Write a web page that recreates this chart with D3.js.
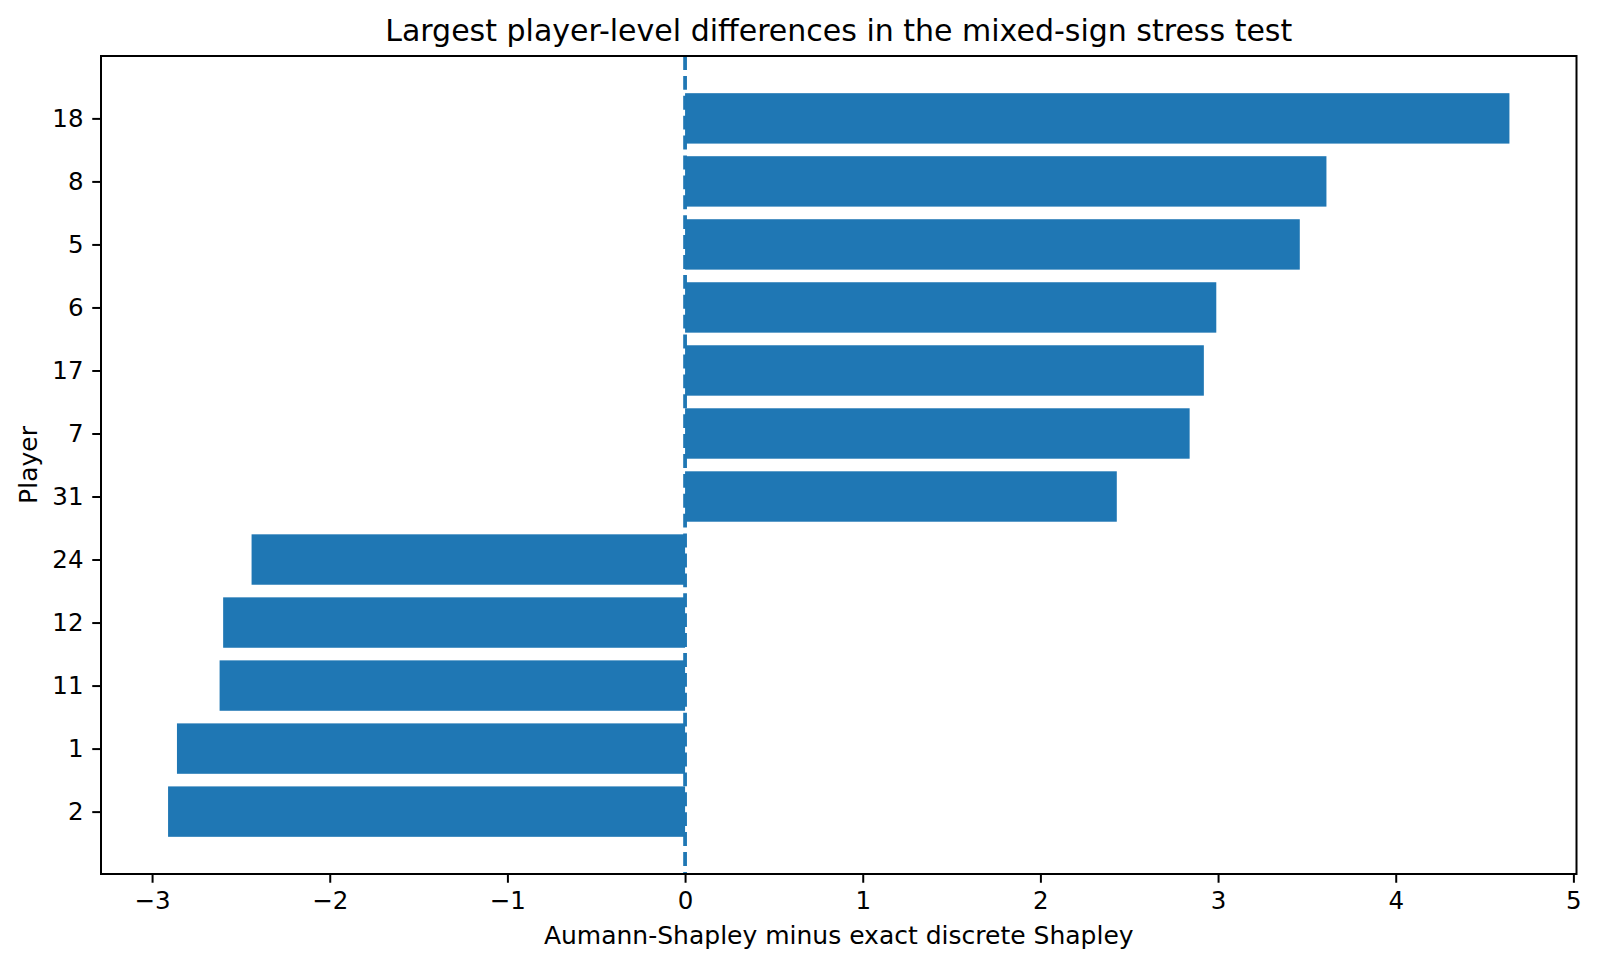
<!DOCTYPE html>
<html>
<head>
<meta charset="utf-8">
<script src="https://cdn.jsdelivr.net/npm/d3@7"></script>
<style>
	body { margin: 0; background: #fff; }
	text { font-family: "DejaVu Sans", sans-serif; fill: #000; }
</style>
</head>
<body>
<script>
// players from bottom to top, as matplotlib barh draws them
const players = ["2", "1", "11", "12", "24", "31", "7", "17", "6", "5", "8", "18"];
const differences = [-2.91, -2.86, -2.62, -2.60, -2.44, 2.43, 2.84, 2.92, 2.99, 3.46, 3.61, 4.64];
const xTicks = [-3, -2, -1, 0, 1, 2, 3, 4, 5];

const chartTitle = "Largest player-level differences in the mixed-sign stress test";
const xLabel = "Aumann-Shapley minus exact discrete Shapley";
const yLabel = "Player";

document.addEventListener("DOMContentLoaded", function(event) {
	createBarChart(967, 1600);
});

/**
 * draw the horizontal bar chart into the body
 *
 * @param h, height of the svg
 * @param w, width of the svg
 */
function createBarChart(h, w) {
	const margin = {top: 56, right: 23.5, bottom: 93, left: 101};
	const innerW = w - margin.left - margin.right;
	const innerH = h - margin.top - margin.bottom;
	const color = "#1f77b4";
	const tickLen = 8.75;
	const tickPad = 8.75;

	const svg = d3.select("body")
				  .append("svg")
				  .attr("width", w)
				  .attr("height", h);

	const g = svg.append("g")
				 .attr("transform", "translate(" + margin.left + "," + margin.top + ")");

	//matplotlib style 5% margins around the data
	const lo = Math.min(0, d3.min(differences));
	const hi = Math.max(0, d3.max(differences));
	const padX = (hi - lo) * 0.05;
	const xScale = d3.scaleLinear()
					 .domain([lo - padX, hi + padX])
					 .range([0, innerW]);

	const bandLo = -0.4;
	const bandHi = players.length - 1 + 0.4;
	const padY = (bandHi - bandLo) * 0.05;
	const yScale = d3.scaleLinear()
					 .domain([bandLo - padY, bandHi + padY])
					 .range([innerH, 0]);

	//bars
	g.selectAll("rect.bar")
	 .data(differences)
	 .enter()
	 .append("rect")
	 .attr("class", "bar")
	 .attr("x", function(d) { return xScale(Math.min(0, d)); })
	 .attr("y", function(d, i) { return yScale(i + 0.4); })
	 .attr("width", function(d) { return Math.abs(xScale(d) - xScale(0)); })
	 .attr("height", function(d, i) { return yScale(i - 0.4) - yScale(i + 0.4); })
	 .attr("fill", color);

	//dashed zero line
	g.append("line")
	 .attr("x1", xScale(0))
	 .attr("x2", xScale(0))
	 .attr("y1", 0)
	 .attr("y2", innerH)
	 .attr("stroke", color)
	 .attr("stroke-width", 3.75)
	 .attr("stroke-dasharray", "13.9,6");

	//axes
	const xAxis = g.append("g")
				   .attr("transform", "translate(0," + innerH + ")")
				   .call(d3.axisBottom(xScale)
						   .tickValues(xTicks)
						   .tickFormat(d3.format("d"))
						   .tickSize(tickLen)
						   .tickPadding(tickPad));

	const yAxis = g.append("g")
				   .call(d3.axisLeft(yScale)
						   .tickValues(d3.range(players.length))
						   .tickFormat(function(d) { return players[d]; })
						   .tickSize(tickLen)
						   .tickPadding(tickPad));

	[xAxis, yAxis].forEach(function(ax) {
		ax.select(".domain").remove();
		ax.selectAll(".tick line").attr("stroke", "#000").attr("stroke-width", 2);
		ax.selectAll(".tick text").attr("font-size", 24.5).attr("font-family", "DejaVu Sans").attr("fill", "#000");
	});

	//frame
	g.append("rect")
	 .attr("x", 0)
	 .attr("y", 0)
	 .attr("width", innerW)
	 .attr("height", innerH)
	 .attr("fill", "none")
	 .attr("stroke", "#000")
	 .attr("stroke-width", 2);

	//texts
	svg.append("text")
	   .attr("x", margin.left + innerW / 2)
	   .attr("y", 41)
	   .attr("text-anchor", "middle")
	   .attr("font-size", 30)
	   .text(chartTitle);

	svg.append("text")
	   .attr("x", margin.left + innerW / 2)
	   .attr("y", 944)
	   .attr("text-anchor", "middle")
	   .attr("font-size", 25)
	   .text(xLabel);

	svg.append("text")
	   .attr("transform", "translate(37," + (margin.top + innerH / 2) + ") rotate(-90)")
	   .attr("text-anchor", "middle")
	   .attr("font-size", 25)
	   .text(yLabel);
}
</script>
</body>
</html>
